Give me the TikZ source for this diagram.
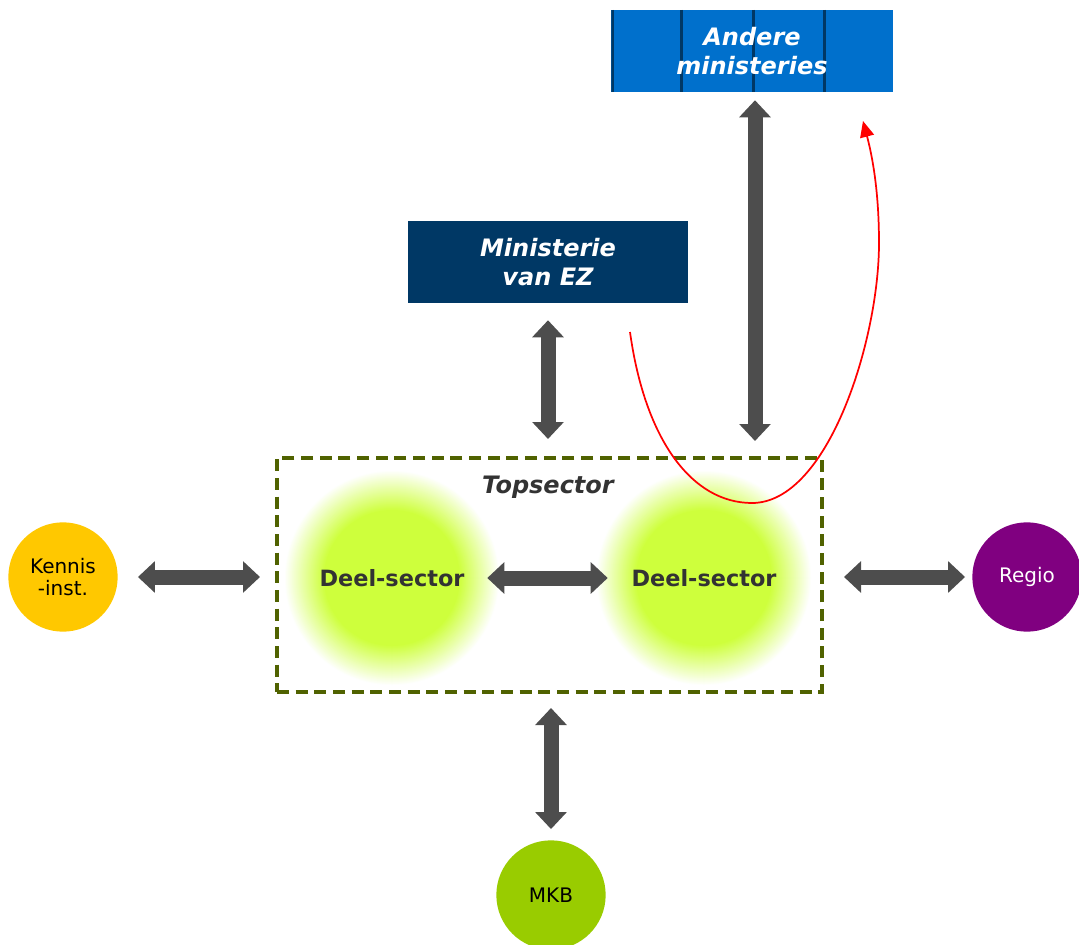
\documentclass[tikz,border=0pt]{standalone}
\usepackage{fontspec}
\setmainfont{DejaVu Sans}[BoldFont={DejaVu Sans Bold},ItalicFont={DejaVu Sans Oblique},BoldItalicFont={DejaVu Sans Bold Oblique}]
\usepackage{tikz}
\usetikzlibrary{arrows.meta}
\definecolor{anderecol}{RGB}{0,112,204}
\definecolor{ezcol}{RGB}{0,56,101}
\definecolor{topcol}{RGB}{80,98,0}
\definecolor{arrowcol}{RGB}{77,77,77}
\definecolor{kenniscol}{RGB}{255,200,0}
\definecolor{regiocol}{RGB}{128,0,128}
\definecolor{mkbcol}{RGB}{153,204,0}
\definecolor{deelcol}{RGB}{206,255,60}
\definecolor{labelcol}{RGB}{51,51,51}
\tikzset{>=latex}

\begin{document}
\begin{tikzpicture}[x=0.75pt, y=-0.75pt,
    minbox/.style={minimum width=211pt, minimum height=61.5pt, inner sep=0pt, text=white, align=center, font=\fontsize{18}{22}\selectfont\bfseries\itshape},
    actor/.style={circle, minimum size=82pt, inner sep=0pt, align=center, font=\fontsize{15}{16.5}\selectfont},
    deel/.style={circle, minimum size=162pt, inner sep=0pt, text=labelcol, font=\fontsize{16.8}{19}\selectfont\bfseries},
    link/.style={draw=arrowcol, line width=11.25pt, {Triangle[width=23pt,length=12.75pt]}-{Triangle[width=23pt,length=12.75pt]}}]

        \useasboundingbox (0,0) rectangle (1079,945);

        % Glow behind the deel-sectors
        \foreach \cx in {392,704}
            \foreach \k in {0,...,40} {
                \pgfmathtruncatemacro{\mix}{\k*100/40}
                \fill[deelcol!\mix!white] (\cx,578) circle[radius={(108-\k)*0.75pt}];
            }

        % Deel-sectors
        \node[deel] (deel1) at (392,578) {Deel-sector};
        \node[deel] (deel2) at (704,578) {Deel-sector};

        % Topsector frame
        \node[draw=topcol, line width=3pt, dash pattern=on 9pt off 5pt, minimum width=408.75pt, minimum height=175.5pt] (top) at (549.5,575) {};
        \node[text=labelcol, font=\fontsize{18}{22}\selectfont\bfseries\itshape] (toplabel) at (548,487) {Topsector};

        % Ministries
        \node[minbox, fill=anderecol, path picture={
            \foreach \dx in {1,70,142,213}
                \draw[ezcol, line width=2.25pt] ([xshift=\dx*0.75pt]path picture bounding box.north west) -- ([xshift=\dx*0.75pt]path picture bounding box.south west);
        }] (andere) at (752,51) {Andere\\ministeries};
        \node[minbox, fill=ezcol, minimum width=210pt] (ez) at (548,262) {Ministerie\\van EZ};

        % Actors
        \node[actor, fill=kenniscol] (kennis) at (63,577) {Kennis\\-inst.};
        \node[actor, fill=regiocol, text=white] (regio) at (1027,577) {Regio};
        \node[actor, fill=mkbcol] (mkb) at (551,895) {MKB};

        % Links
        \draw[link, shorten <=15pt, shorten >=11.25pt] (kennis) -- (kennis -| top.west);
        \draw[link, shorten <=15pt, shorten >=5.25pt] (top.east |- regio) -- (regio);
        \draw[link, shorten <=10.5pt, shorten >=8.25pt] (top.south -| mkb) -- (mkb);
        \draw[link, shorten <=12.75pt, shorten >=12.75pt] (ez) -- (ez |- top.north);
        \draw[link, shorten <=6pt, shorten >=11.25pt] ([xshift=2.25pt]andere.south) -- ([xshift=2.25pt]andere.south |- top.north);
        \draw[link, shorten <=-9.75pt, shorten >=-9pt] (deel1) -- (deel2);

        % Red curve
        \coordinate (curvestart) at (630,332);
        \coordinate (curveend) at (863,121);
        \draw[red, line width=1.3pt, -{Triangle[length=12pt,width=10.5pt]}] (curvestart) .. controls (645,440) and (692,503) .. (752,503) .. controls (828,503) and (879,340) .. (879,243) .. controls (879,190) and (872,155) .. (curveend);

    \end{tikzpicture}
\end{document}
